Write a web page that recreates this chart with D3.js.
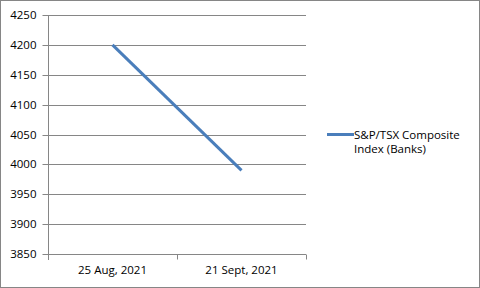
<!DOCTYPE html>
<html><head><meta charset="utf-8">
<script src="https://cdn.jsdelivr.net/npm/d3@7"></script>
<style>html,body{margin:0;padding:0;background:#fff;}svg{display:block;}</style>
</head><body>
<script>
const categories = ["25 Aug, 2021", "21 Sept, 2021"];
const seriesName = ["S&P/TSX Composite", "Index (Banks)"];
const values = [4200, 3990];
const yTicks = [3850, 3900, 3950, 4000, 4050, 4100, 4150, 4200, 4250];

const W = 480, H = 288;
const m = {l: 48, r: 174, t: 15, b: 34};
const svg = d3.select("body").append("svg").attr("width", W).attr("height", H);
svg.append("rect").attr("x", 0.5).attr("y", 0.5).attr("width", W - 1).attr("height", H - 1)
  .attr("fill", "#fff").attr("stroke", "#868686");

const x = d3.scaleBand().domain(categories).range([m.l, W - m.r]);
const y = d3.scaleLinear().domain([3850, 4250]).range([H - m.b, m.t]);
const font = "'Open Sans', 'Liberation Sans', Arial, sans-serif";
const fs = 11.5;

// gridlines
svg.append("g").selectAll("line").data(yTicks).join("line")
  .attr("x1", m.l).attr("x2", W - m.r)
  .attr("y1", d => Math.round(y(d)) + 0.5).attr("y2", d => Math.round(y(d)) + 0.5)
  .attr("stroke", "#868686").attr("stroke-width", 1);

// y axis
const ya = svg.append("g").attr("transform", `translate(${m.l + 0.5},0)`)
  .call(d3.axisLeft(y).tickValues(yTicks).tickSize(6).tickPadding(6).tickFormat(d3.format("d")));
ya.selectAll("path,line").attr("stroke", "#868686");
ya.selectAll(".tick").attr("transform", d => `translate(0,${Math.round(y(d)) + 0.5})`);
ya.selectAll("text").attr("font-family", font).attr("font-size", fs).attr("fill", "#000");
ya.select(".domain").attr("d", `M0,${m.t}V${H - m.b + 6}`);

// x axis
const xa = svg.append("g").attr("transform", `translate(0,${Math.round(y(3850)) + 0.5})`)
  .call(d3.axisBottom(x).tickSize(0).tickPadding(11));
xa.selectAll("path,line").attr("stroke", "#868686");
xa.select(".domain").attr("d", `M${m.l},0H${W - m.r}`);
xa.selectAll("text").attr("font-family", font).attr("font-size", fs).attr("fill", "#000");
// category boundary ticks
const bounds = [m.l, m.l + x.step(), W - m.r];
xa.selectAll(".bt").data(bounds).join("line").attr("class", "bt")
  .attr("x1", d => Math.round(d) + 0.5).attr("x2", d => Math.round(d) + 0.5)
  .attr("y1", 0).attr("y2", 5).attr("stroke", "#868686");

// line
const line = d3.line().x((d, i) => x(categories[i]) + x.bandwidth() / 2).y(d => y(d));
svg.append("path").datum(values).attr("d", line)
  .attr("fill", "none").attr("stroke", "#4a7ebb").attr("stroke-width", 3).attr("stroke-linecap", "butt");

// legend
const lg = svg.append("g");
lg.append("line").attr("x1", 327).attr("x2", 354).attr("y1", 134.5).attr("y2", 134.5)
  .attr("stroke", "#4a7ebb").attr("stroke-width", 3);
lg.selectAll("text").data(seriesName).join("text")
  .attr("x", 354).attr("y", (d, i) => 139 + i * 14)
  .attr("font-family", font).attr("font-size", fs).attr("fill", "#000").text(d => d);
</script>
</body></html>
